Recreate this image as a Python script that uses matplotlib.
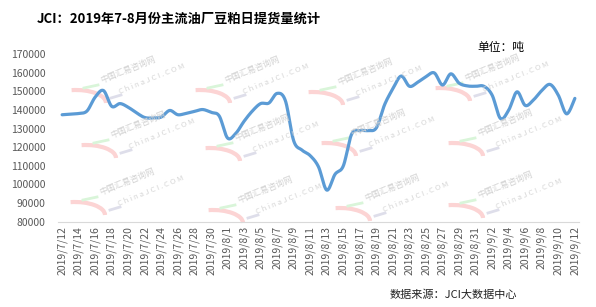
import numpy as np
import matplotlib
matplotlib.use("Agg")
import matplotlib.pyplot as plt
from matplotlib.patches import Arc

plt.rcParams['font.family'] = ['Noto Sans CJK SC', 'DejaVu Sans']

# daily pick-up volume, 2019/7/12 .. 2019/9/12 (tons)
dates = ([f"2019/7/{d}" for d in range(12, 32)] +
         [f"2019/8/{d}" for d in range(1, 32)] +
         [f"2019/9/{d}" for d in range(1, 13)])
volume = [137500, 137800, 138200, 139500, 147000, 150500, 142000, 143500, 141500, 138500,
          136000, 135800, 136300, 139800, 137500, 138300, 139300, 140300, 138800, 136800,
          125000, 127500, 134000, 139500, 143500, 143800, 149000, 145000, 123500, 118500,
          115500, 109500, 97000, 105500, 110000, 127000, 129000, 129000, 130500, 143000,
          151500, 158300, 152800, 155000, 158000, 160000, 153500, 159500, 154500, 153000,
          152800, 152800, 148000, 135500, 140000, 149800, 142500, 145500, 150500, 153800,
          148000, 138000, 146300]
yticks = list(range(80000, 170001, 10000))

title = "JCI：2019年7-8月份主流油厂豆粕日提货量统计"
unit = "单位：吨"
source = "数据来源：JCI大数据中心"


def smooth(x, y, n=20):
    # catmull-rom, like excel's smoothed line
    x = np.asarray(x, float)
    y = np.asarray(y, float)
    px = np.concatenate([[x[0]], x, [x[-1]]])
    py = np.concatenate([[y[0]], y, [y[-1]]])
    t = np.linspace(0, 1, n, endpoint=False)
    xs, ys = [], []
    for i in range(1, len(px) - 2):
        for p, out in ((px, xs), (py, ys)):
            p0, p1, p2, p3 = p[i - 1], p[i], p[i + 1], p[i + 2]
            out.extend(0.5 * (2 * p1 + (-p0 + p2) * t +
                              (2 * p0 - 5 * p1 + 4 * p2 - p3) * t ** 2 +
                              (-p0 + 3 * p1 - 3 * p2 + p3) * t ** 3))
    xs.append(x[-1])
    ys.append(y[-1])
    return np.array(xs), np.array(ys)


fig = plt.figure(figsize=(5.96, 3.07), dpi=100)
ax = fig.add_axes([58 / 596, 1 - 221.7 / 307, 521 / 596, 167.4 / 307])

# watermarks (pixel positions of the text start)
marks = [(103, 85), (227, 85), (340, 87), (467, 83),
         (113, 140), (237, 143), (353, 138), (480, 138),
         (102, 197), (240, 205), (367, 203), (480, 200)]
W, H = 596, 307
for mx, my in marks:
    fx, fy = mx / W, 1 - my / H
    fig.text(fx, fy, "中国汇易咨询网", rotation=22, fontsize=6, color='#d2d2d2',
             ha='left', va='bottom', rotation_mode='anchor', zorder=0)
    fig.text(fx + 18 / W, fy - 11 / H, "C h i n a J C I . C O M", rotation=22,
             fontsize=5.5, color='#d6d6d6', ha='left', va='bottom',
             rotation_mode='anchor', zorder=0)
    fig.add_artist(Arc(((mx - 27) / W, 1 - (my + 18) / H), 60 / W, 26 / H,
                       theta1=0, theta2=100, color='#fcd4d4', lw=3,
                       transform=fig.transFigure, zorder=0))
    fig.add_artist(plt.Line2D([(mx - 19) / W, (mx - 5) / W],
                              [1 - (my + 3) / H, 1 - my / H],
                              color='#d9f5d9', lw=2, transform=fig.transFigure, zorder=0))
    fig.add_artist(plt.Line2D([(mx + 8) / W, (mx + 18) / W],
                              [1 - (my + 13) / H, 1 - (my + 10) / H],
                              color='#dedeea', lw=2, transform=fig.transFigure, zorder=0))

ax.patch.set_alpha(0)
xi = np.arange(len(volume))
sx, sy = smooth(xi, volume)
ax.plot(sx, sy, color='#5B9BD5', lw=2.3, solid_capstyle='round', zorder=3)

ax.set_xlim(-0.5, len(volume) - 0.5)
ax.set_ylim(80000, 170000)
ax.set_yticks(yticks)
ax.set_yticklabels([str(v) for v in yticks])
ax.set_xticks(xi[::2])
ax.set_xticklabels(dates[::2], rotation=90)
ax.tick_params(axis='y', length=0, pad=9, labelsize=7.5, labelcolor='#595959')
ax.tick_params(axis='x', length=0, pad=3, labelsize=7.5, labelcolor='#595959')
for s in ('left', 'right', 'top'):
    ax.spines[s].set_visible(False)
ax.spines['bottom'].set_color('#d9d9d9')

fig.text(37 / W, 1 - 19 / H, title, fontsize=9.5, fontweight='bold',
         ha='left', va='center')
fig.text(477 / W, 1 - 47 / H, unit, fontsize=8.5, ha='left', va='center')
fig.text(390 / W, 1 - 295 / H, source, fontsize=8, ha='left', va='center',
         color='#222222')

fig.savefig('out.png', dpi=100)
